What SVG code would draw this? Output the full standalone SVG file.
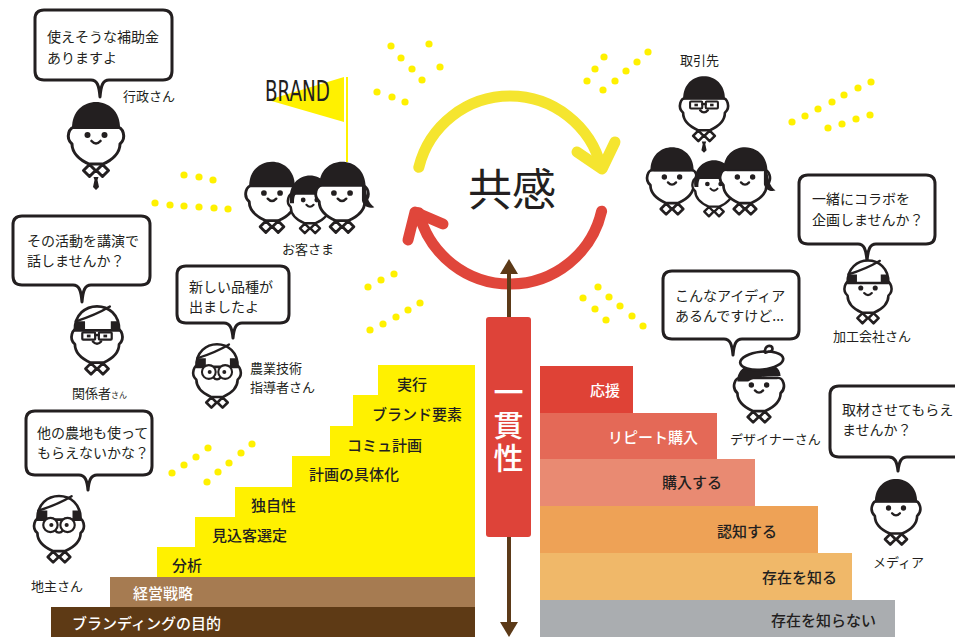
<svg xmlns="http://www.w3.org/2000/svg" width="955" height="637" viewBox="0 0 955 637">
<style>
.ink{fill:#231F20}
.sk{fill:#fff;stroke:#231F20;stroke-width:3;stroke-linejoin:round}
.gl{fill:#fff;stroke:#231F20;stroke-width:2.4}
.ln{fill:none;stroke:#231F20;stroke-width:2.6;stroke-linecap:round}
.bub{fill:#fff;stroke:#231F20;stroke-width:3;stroke-linejoin:round}
.t{font-family:"Noto Sans CJK JP","Noto Sans",sans-serif;fill:#231F20}
.say{font-size:14px}
.lab{font-size:13px}
.st{font-size:15px;font-weight:500}
.w{fill:#fff}
.dot{fill:#FFF100}
.arc{fill:none;stroke-width:11;stroke-linecap:round;stroke-linejoin:round}
</style>
<defs>
  <!-- head outline with ears, neck and open collar -->
  <g id="face">
    <path class="sk" d="M-20,-8 C-27,-9 -31,3 -24,9 C-24,18 -16,25 -7,29 L7,29 C16,25 24,18 24,9 C31,3 27,-9 20,-8 Z"/>
    <path class="sk" d="M-6.5,29.5 L-0.5,35.5 L-6.5,41.5 L-12.5,35.5 Z M6.5,29.5 L12.5,35.5 L6.5,41.5 L0.5,35.5 Z"/>
    <path class="ln" d="M-4.5,6 Q0,11 4.5,6"/>
  </g>
  <g id="eyes">
    <circle class="ink" cx="-8.5" cy="0" r="3"/>
    <circle class="ink" cx="8.5" cy="0" r="3"/>
  </g>
  <g id="sqglasses">
    <rect class="gl" x="-16" y="-4" width="14" height="8" rx="1"/>
    <rect class="gl" x="2" y="-4" width="14" height="8" rx="1"/>
    <path class="ln" d="M-2,-1 H2"/>
    <rect class="ink" x="-11" y="-1.5" width="4" height="3"/>
    <rect class="ink" x="7" y="-1.5" width="4" height="3"/>
  </g>
  <g id="rdglasses">
    <circle class="gl" cx="-9.5" cy="0" r="8"/>
    <circle class="gl" cx="9.5" cy="0" r="8"/>
    <circle class="ink" cx="-8.5" cy="0" r="2.3"/>
    <circle class="ink" cx="8.5" cy="0" r="2.3"/>
  </g>
  <path id="hair" class="ink" d="M-24,-6 C-25,-42 25,-42 24,-6 Z"/>
  <path id="bob" class="ink" d="M-25,4 C-31,-42 31,-42 25,4 L20,4 C20,-3 19,-6 17,-8 L-17,-8 C-19,-6 -20,-3 -20,4 Z"/>
  <path id="tailhair" class="ink" d="M-24,-6 C-25,-42 25,-42 25,-6 C26,3 27,10 34,15 C27,17 22,13 21,8 L21,-8 L-24,-8 Z"/>
  <path id="tie" class="ink" d="M-2.5,42 L2.5,42 L1.5,45 L3,52 L0,55 L-3,52 L-1.5,45 Z"/>
  <g id="cap">
    <path class="sk" d="M-24,-6 C-25,-41 25,-41 24,-6 Z"/>
    <path class="ink" d="M-24,-6 L-23,-16 L-13,-16 L-13,-6 Z M24,-6 L23,-16 L15,-16 L15,-6 Z"/>
    <path class="ln" d="M-23,-16 C-10,-20 4,-26 14,-32"/>
  </g>
  <g id="beret">
    <path class="ink" d="M-24,-4 C-26,-30 24,-32 24,-10 L16,-10 C6,-10 -6,-8 -12,-4 Z"/>
    <ellipse class="sk" cx="3" cy="-27" rx="24" ry="10" transform="rotate(-6 3 -27)"/>
    <path class="sk" d="M7,-36 C5,-44 15,-46 15,-40 C15,-38 12,-37 10,-37 Z"/>
  </g>
</defs>

<rect width="955" height="637" fill="#fff"/>

<!-- branding staircase -->
<g id="steps-left">
  <rect x="378" y="365" width="97" height="31" fill="#FFF100"/>
  <rect x="353" y="395" width="122" height="32" fill="#FFF100"/>
  <rect x="330" y="426" width="145" height="31" fill="#FFF100"/>
  <rect x="292" y="456" width="183" height="32" fill="#FFF100"/>
  <rect x="235" y="487" width="240" height="31" fill="#FFF100"/>
  <rect x="195" y="517" width="280" height="31" fill="#FFF100"/>
  <rect x="157" y="547" width="318" height="30" fill="#FFF100"/>
  <rect x="110" y="577" width="365" height="30" fill="#A67B51"/>
  <rect x="51" y="607" width="424" height="30" fill="#5E3A15"/>
  <text class="t st" x="397" y="390">実行</text>
  <text class="t st" x="372" y="420">ブランド要素</text>
  <text class="t st" x="347" y="451">コミュ計画</text>
  <text class="t st" x="309" y="480">計画の具体化</text>
  <text class="t st" x="251" y="511">独自性</text>
  <text class="t st" x="212" y="541">見込客選定</text>
  <text class="t st" x="172" y="571">分析</text>
  <text class="t st w" x="133" y="599">経営戦略</text>
  <text class="t st w" x="72" y="629">ブランディングの目的</text>
</g>

<!-- customer staircase -->
<g id="steps-right">
  <rect x="540" y="366" width="93" height="48" fill="#DF4236"/>
  <rect x="540" y="413" width="177" height="47" fill="#E46957"/>
  <rect x="540" y="459" width="215" height="48" fill="#E98A72"/>
  <rect x="540" y="506" width="278" height="48" fill="#EEA256"/>
  <rect x="540" y="553" width="312" height="48" fill="#F0B869"/>
  <rect x="540" y="600" width="355" height="37" fill="#AAADB0"/>
  <g text-anchor="end">
    <text class="t st w" x="620" y="396">応援</text>
    <text class="t st w" x="698" y="443">リピート購入</text>
    <text class="t st" x="722" y="488">購入する</text>
    <text class="t st" x="777" y="537">認知する</text>
    <text class="t st" x="837" y="583">存在を知る</text>
    <text class="t st" x="876" y="626">存在を知らない</text>
  </g>
</g>

<!-- decorative dots -->
<g id="dots" class="dot">
  <circle cx="184" cy="175" r="3.6"/><circle cx="199" cy="177" r="3.6"/><circle cx="213" cy="180" r="3.6"/>
  <circle cx="155" cy="203" r="3.6"/><circle cx="170" cy="205" r="3.6"/><circle cx="184" cy="206" r="3.6"/>
  <circle cx="199" cy="207" r="3.6"/><circle cx="214" cy="208" r="3.6"/><circle cx="228" cy="209" r="3.6"/>
  <circle cx="391" cy="46" r="3.6"/><circle cx="401" cy="58" r="3.6"/><circle cx="412" cy="69" r="3.6"/><circle cx="422" cy="80" r="3.6"/>
  <circle cx="429" cy="44" r="3.6"/><circle cx="440" cy="67" r="3.6"/>
  <circle cx="377" cy="92" r="3.6"/><circle cx="392" cy="97" r="3.6"/><circle cx="405" cy="102" r="3.6"/>
  <circle cx="587" cy="81" r="3.6"/><circle cx="595" cy="69" r="3.6"/><circle cx="604" cy="57" r="3.6"/>
  <circle cx="603" cy="90" r="3.6"/><circle cx="615" cy="81" r="3.6"/><circle cx="626" cy="71" r="3.6"/><circle cx="637" cy="62" r="3.6"/><circle cx="648" cy="52" r="3.6"/>
  <circle cx="792" cy="122" r="3.6"/><circle cx="805" cy="116" r="3.6"/><circle cx="818" cy="109" r="3.6"/><circle cx="832" cy="102" r="3.6"/>
  <circle cx="844" cy="95" r="3.6"/><circle cx="858" cy="88" r="3.6"/><circle cx="871" cy="82" r="3.6"/>
  <circle cx="828" cy="128" r="3.6"/><circle cx="842" cy="124" r="3.6"/><circle cx="856" cy="119" r="3.6"/><circle cx="870" cy="115" r="3.6"/>
  <circle cx="368" cy="287" r="3.6"/><circle cx="381" cy="280" r="3.6"/><circle cx="394" cy="274" r="3.6"/>
  <circle cx="370" cy="330" r="3.6"/><circle cx="383" cy="324" r="3.6"/><circle cx="396" cy="317" r="3.6"/><circle cx="408" cy="310" r="3.6"/><circle cx="420" cy="303" r="3.6"/>
  <circle cx="583" cy="298" r="3.6"/><circle cx="595" cy="309" r="3.6"/><circle cx="606" cy="320" r="3.6"/>
  <circle cx="598" cy="287" r="3.6"/><circle cx="609" cy="297" r="3.6"/><circle cx="620" cy="306" r="3.6"/><circle cx="632" cy="316" r="3.6"/><circle cx="643" cy="326" r="3.6"/>
  <circle cx="172" cy="473" r="3.6"/><circle cx="184" cy="465" r="3.6"/><circle cx="196" cy="457" r="3.6"/><circle cx="208" cy="448" r="3.6"/>
  <circle cx="207" cy="482" r="3.6"/><circle cx="218" cy="472" r="3.6"/><circle cx="229" cy="463" r="3.6"/><circle cx="241" cy="453" r="3.6"/><circle cx="252" cy="444" r="3.6"/>
</g>

<!-- cycle and consistency arrows -->
<g id="connectors">
  <path class="arc" stroke="#F5E52F" d="M418.8,167.3 A94,94 0 0 1 601.2,167.3"/>
  <path class="arc" stroke="#F5E52F" d="M577,152 L602,169 L615,142"/>
  <path class="arc" stroke="#E0463B" d="M601.6,211.2 A94,94 0 0 1 418.8,212.7"/>
  <path class="arc" stroke="#E0463B" d="M443,224 L415,212 L408,240"/>
  <line x1="509" y1="270" x2="509" y2="626" stroke="#5C3A18" stroke-width="4"/>
  <polygon points="509,259 500,274 518,274" fill="#5C3A18"/>
  <polygon points="509,637 500,622 518,622" fill="#5C3A18"/>
</g>

<g id="empathy">
  <text class="t" x="512" y="206" font-size="44" text-anchor="middle">共感</text>
</g>

<g id="consistency">
  <rect x="486" y="317" width="45" height="220" rx="3" fill="#DE4339"/>
  <text class="t w" x="508.5" y="377" font-size="30" font-weight="500" writing-mode="vertical-rl" letter-spacing="3">一貫性</text>
</g>

<g id="brand-flag">
  <line x1="347" y1="77" x2="347" y2="162" stroke="#FFF100" stroke-width="2"/>
  <polygon points="268,100 344,77 344,122" fill="#FFF100"/>
  <text x="265" y="101" font-family="'DejaVu Sans Condensed','DejaVu Sans',sans-serif" font-size="28" fill="#231F20" textLength="65" lengthAdjust="spacingAndGlyphs">BRAND</text>
</g>

<g id="customers">
  <g transform="translate(272,193) scale(0.95)"><use href="#face"/><use href="#eyes"/><use href="#hair"/></g>
  <g transform="translate(310,200) scale(0.8)"><use href="#face"/><use href="#eyes"/><use href="#bob"/></g>
  <g transform="translate(342,193) scale(0.95)"><use href="#face"/><use href="#eyes"/><use href="#tailhair"/></g>
  <text class="t lab" x="282" y="254">お客さま</text>
</g>

<g id="administration">
  <path class="bub" d="M44,10 H163 Q172,10 172,19 V71 Q172,80 163,80 H109 C103,80 101,85 100,97 C99,85 97,80 91,80 H44 Q35,80 35,71 V19 Q35,10 44,10 Z"/>
  <text class="t say"><tspan x="47" y="42">使えそうな補助金</tspan><tspan x="47" y="63">ありますよ</tspan></text>
  <g transform="translate(96,135)"><use href="#face"/><use href="#eyes"/><use href="#hair"/><use href="#tie"/></g>
  <text class="t lab" x="123" y="101">行政さん</text>
</g>

<g id="stakeholder">
  <path class="bub" d="M22,216 H141 Q150,216 150,225 V276 Q150,285 141,285 H91 C85,285 83,290 82,302 C81,290 79,285 73,285 H22 Q13,285 13,276 V225 Q13,216 22,216 Z"/>
  <text class="t say"><tspan x="27" y="246">その活動を講演で</tspan><tspan x="27" y="266">話しませんか？</tspan></text>
  <g transform="translate(97,336) scale(0.92)"><use href="#face"/><use href="#cap"/><use href="#sqglasses"/></g>
  <text class="t lab" x="72" y="398">関係者<tspan font-size="8">さん</tspan></text>
</g>

<g id="adviser">
  <path class="bub" d="M186,266 H280 Q289,266 289,275 V314 Q289,323 280,323 H242 C236,323 234,328 233,338 C232,328 230,323 224,323 H186 Q177,323 177,314 V275 Q177,266 186,266 Z"/>
  <text class="t say"><tspan x="189" y="292">新しい品種が</tspan><tspan x="189" y="312">出ましたよ</tspan></text>
  <g transform="translate(217,372) scale(0.86)"><use href="#face"/><use href="#cap"/><use href="#rdglasses"/></g>
  <text class="t lab"><tspan x="250" y="373">農業技術</tspan><tspan x="250" y="392">指導者さん</tspan></text>
</g>

<g id="landowner">
  <path class="bub" d="M35,411 H143 Q152,411 152,420 V466 Q152,475 143,475 H97 C91,475 89,480 88,490 C87,480 85,475 79,475 H35 Q26,475 26,466 V420 Q26,411 35,411 Z"/>
  <text class="t say"><tspan x="37" y="438">他の農地も使って</tspan><tspan x="37" y="458">もらえないかな？</tspan></text>
  <g transform="translate(59,525) scale(0.9)"><use href="#face"/><use href="#cap"/><use href="#rdglasses"/></g>
  <text class="t lab" x="31" y="591">地主さん</text>
</g>

<g id="partners">
  <text class="t lab" x="680" y="65">取引先</text>
  <g transform="translate(704,105) scale(0.87)"><use href="#face"/><use href="#hair"/><use href="#sqglasses"/><use href="#tie"/></g>
  <g transform="translate(672,177) scale(0.9)"><use href="#face"/><use href="#eyes"/><use href="#hair"/></g>
  <g transform="translate(714,184) scale(0.78)"><use href="#face"/><use href="#eyes"/><use href="#bob"/></g>
  <g transform="translate(745,177) scale(0.9)"><use href="#face"/><use href="#eyes"/><use href="#tailhair"/></g>
</g>

<g id="processor">
  <path class="bub" d="M808,175 H926 Q935,175 935,184 V235 Q935,244 926,244 H876 C870,244 868,249 867,261 C866,249 864,244 858,244 H808 Q799,244 799,235 V184 Q799,175 808,175 Z"/>
  <text class="t say"><tspan x="812" y="204">一緒にコラボを</tspan><tspan x="812" y="225">企画しませんか？</tspan></text>
  <g transform="translate(868,288) scale(0.85)"><use href="#face"/><use href="#eyes"/><use href="#cap"/></g>
  <text class="t lab" x="833" y="341">加工会社さん</text>
</g>

<g id="designer">
  <path class="bub" d="M672,271 H790 Q799,271 799,280 V330 Q799,339 790,339 H742 C736,339 734,344 733,355 C732,344 730,339 724,339 H672 Q663,339 663,330 V280 Q663,271 672,271 Z"/>
  <text class="t say"><tspan x="675" y="301">こんなアイディア</tspan><tspan x="675" y="321">あるんですけど...</tspan></text>
  <g transform="translate(759,385) scale(0.9)"><use href="#face"/><use href="#eyes"/><use href="#beret"/></g>
  <text class="t lab" x="730" y="444">デザイナーさん</text>
</g>

<g id="media">
  <path class="bub" d="M839,386 H961 Q970,386 970,395 V448 Q970,457 961,457 H907 C901,457 899,462 898,471 C897,462 895,457 889,457 H839 Q830,457 830,448 V395 Q830,386 839,386 Z"/>
  <text class="t say"><tspan x="842" y="415">取材させてもらえ</tspan><tspan x="842" y="435">ませんか？</tspan></text>
  <g transform="translate(896,508) scale(0.88)"><use href="#face"/><use href="#eyes"/><use href="#hair"/></g>
  <text class="t lab" x="873" y="567" font-size="12">メディア</text>
</g>
</svg>
